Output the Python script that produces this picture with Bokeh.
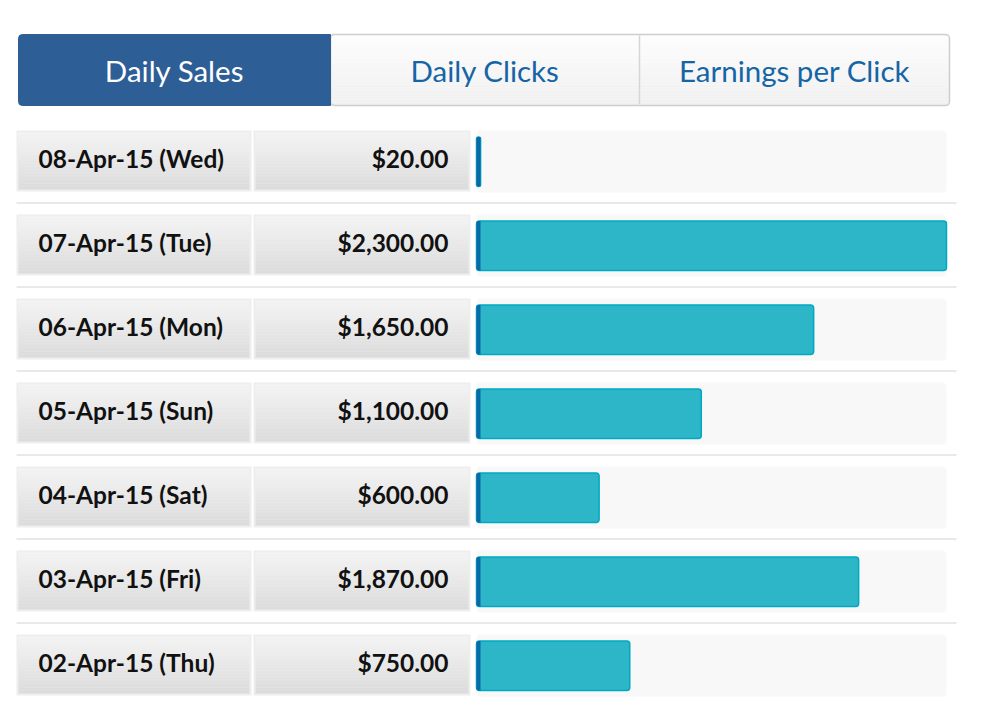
import numpy as np
from bokeh.plotting import figure
from bokeh.models import Range1d, ColumnDataSource
from bokeh.core.properties import value
from bokeh.embed import file_html
from bokeh.resources import INLINE

# ---- data ----
tabs = ["Daily Sales", "Daily Clicks", "Earnings per Click"]
dates = ["08-Apr-15 (Wed)", "07-Apr-15 (Tue)", "06-Apr-15 (Mon)", "05-Apr-15 (Sun)",
         "04-Apr-15 (Sat)", "03-Apr-15 (Fri)", "02-Apr-15 (Thu)"]
sales = [20, 2300, 1650, 1100, 600, 1870, 750]
sales_labels = ["$20.00", "$2,300.00", "$1,650.00", "$1,100.00", "$600.00", "$1,870.00", "$750.00"]

FONT = "Lato"
W, H = 986, 704
X0, Y0 = 0, 0

p = figure(width=W, height=H, output_backend="svg", toolbar_location=None,
           x_range=Range1d(X0, X0 + W), y_range=Range1d(Y0 + H, Y0),
           x_axis_location=None, y_axis_location=None, min_border=0,
           background_fill_color="white", border_fill_color="white")
p.outline_line_color = None
p.grid.visible = False

# value scale: 0 -> track left, max -> track right
TRACK_L, TRACK_R = 476, 946
vmax = max(sales)
k = (TRACK_R - TRACK_L) / vmax
p.extra_x_ranges = {"val": Range1d((X0 - TRACK_L) / k, (X0 + W - TRACK_L) / k)}

# ---- tabs ----
tab_top, tab_bot = 34, 105
tab_edges = [18, 330, 639, 949]
n_st = 24
for j in (1, 2):
    l, r = tab_edges[j], tab_edges[j + 1]
    tt = np.linspace(tab_top, tab_bot, n_st + 1)
    cols = []
    for s in range(n_st):
        c = int(round(253 - (253 - 240) * s / (n_st - 1)))
        cols.append("#%02x%02x%02x" % (c, c, c))
    p.quad(left=[l] * n_st, right=[r] * n_st, top=list(tt[:-1]), bottom=list(tt[1:]),
           fill_color=cols, line_color=None)
p.quad(left=[tab_edges[1]], right=[tab_edges[3]], top=[tab_top], bottom=[tab_bot],
       fill_color=None, line_color="#cdcdcd", line_width=1.5, border_radius=4)
p.segment(x0=[tab_edges[2]], x1=[tab_edges[2]], y0=[tab_top + 1], y1=[tab_bot - 1],
          line_color="#d6d6d6", line_width=1.5)
p.quad(left=[tab_edges[0]], right=[tab_edges[1]], top=[tab_top], bottom=[tab_bot],
       fill_color="#2e5e96", line_color="#2e5e96", border_radius=(4, 0, 0, 4))
tab_cx = [(tab_edges[j] + tab_edges[j + 1]) / 2 for j in range(3)]
p.text(x=tab_cx, y=[(tab_top + tab_bot) / 2] * 3, text=tabs,
       text_color=["white", "#1565a6", "#1565a6"], text_font=value(FONT),
       text_font_size="29.5px", text_align="center", text_baseline="middle")

# ---- rows ----
row_top0, pitch, row_h = 130, 84, 61
n = len(dates)
tops = np.array([row_top0 + pitch * i for i in range(n)], dtype=float)

# separators
p.segment(x0=[16] * (n - 1), x1=[956] * (n - 1), y0=list(tops[:-1] + 72.5), y1=list(tops[:-1] + 72.5),
          line_color="#e9e9e9", line_width=2)

# label boxes
boxes = [(16, 251), (253, 470)]
for (l, r) in boxes:
    p.quad(left=[l] * n, right=[r] * n, top=list(tops), bottom=list(tops + row_h),
           fill_color="#eeeeee", line_color=None)
    ns = 20
    L, R, T, B, C = [], [], [], [], []
    for t in tops:
        edges = np.linspace(t + 2, t + row_h - 2, ns + 1)
        for s in range(ns):
            c = int(round(243 - (243 - 220) * s / (ns - 1)))
            L.append(l + 2); R.append(r - 2); T.append(edges[s]); B.append(edges[s + 1])
            C.append("#%02x%02x%02x" % (c, c, c))
    p.quad(left=L, right=R, top=T, bottom=B, fill_color=C, line_color=None)

# track backgrounds
p.quad(left=[TRACK_L] * n, right=[TRACK_R] * n, top=list(tops), bottom=list(tops + row_h + 1),
       fill_color="#f8f8f8", line_color=None, border_radius=4)

# bars
src = ColumnDataSource(dict(zero=[0] * n, val=sales, top=list(tops + 6.5), bot=list(tops + 56)))
p.quad(left="zero", right="val", top="top", bottom="bot", source=src, x_range_name="val",
       fill_color="#2cb6c8", line_color="#00a8c1", line_width=1.5, border_radius=3)
edge_w = 4 / k
p.quad(left=[0] * n, right=[edge_w] * n, top=list(tops + 6.5), bottom=list(tops + 56),
       x_range_name="val", fill_color="#0b68a6", line_color=None, border_radius=(2, 0, 0, 2))

# texts
cy = list(tops + 28)
p.text(x=[38] * n, y=cy, text=dates, text_font=value(FONT), text_font_style="bold",
       text_font_size="24.5px", text_color="#111111", text_align="left", text_baseline="middle")
p.text(x=[448] * n, y=cy, text=sales_labels, text_font=value(FONT), text_font_style="bold",
       text_font_size="24.5px", text_color="#111111", text_align="right", text_baseline="middle")

open("out.html", "w").write(file_html(p, INLINE))
